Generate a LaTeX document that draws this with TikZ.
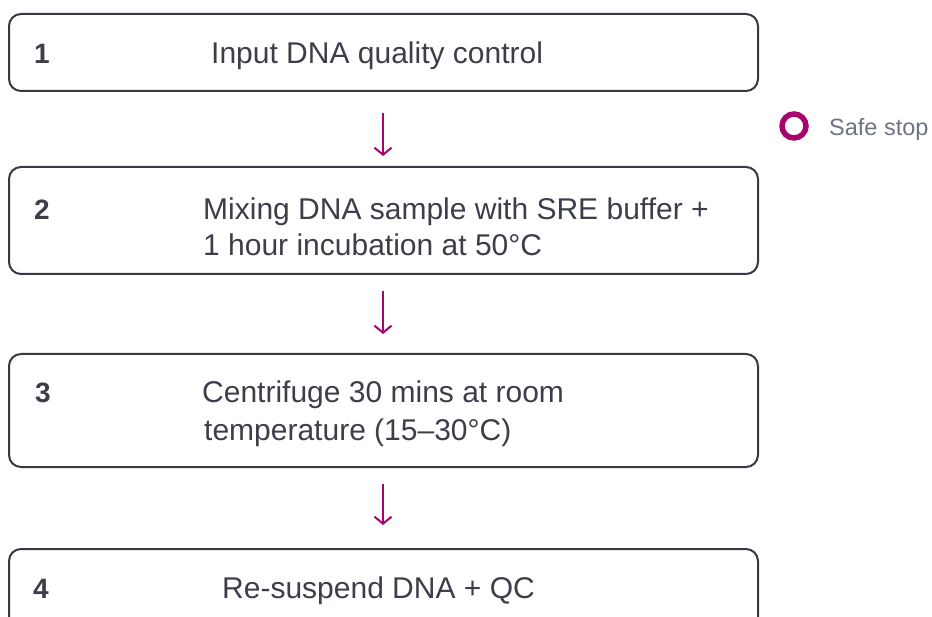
\documentclass[tikz,border=0pt]{standalone}
\usepackage{fontspec}
\setmainfont{Liberation Sans}
\usetikzlibrary{arrows.meta}
\definecolor{boxline}{HTML}{363A45}
\definecolor{txt}{HTML}{3C3F4A}
\definecolor{magen}{HTML}{A8036F}
\definecolor{grey}{HTML}{6E7380}
\tikzset{
  stepbox/.style={draw=boxline, line width=2pt, rounded corners=12pt},
  num/.style={anchor=base west, text=txt, inner sep=0pt, font=\fontsize{28}{30}\selectfont\bfseries},
  lbl/.style={anchor=base west, text=txt, inner sep=0pt, font=\fontsize{30}{34}\selectfont},
  flow/.style={draw=magen, line width=2pt, -{Straight Barb[length=7pt,width=17pt,line width=2pt]}},
}
\begin{document}
\begin{tikzpicture}[x=1pt,y=-1pt]
\useasboundingbox (0,0) rectangle (932,617);
\clip (0,0) rectangle (932,617);
\node[stepbox, minimum width=749pt, minimum height=77pt, anchor=north west] (b1) at (8,13) {};
\node[stepbox, minimum width=749pt, minimum height=107pt, anchor=north west] (b2) at (8,166) {};
\node[stepbox, minimum width=749pt, minimum height=113pt, anchor=north west] (b3) at (8,353) {};
\node[stepbox, minimum width=749pt, minimum height=100pt, anchor=north west] (b4) at (8,548) {};
\node[num] (n1) at (34,64) {1};
\node[num] (n2) at (34,220) {2};
\node[num] (n3) at (35,403) {3};
\node[num] (n4) at (33,598) {4};
\node[lbl] (t1) at (211,64) {Input DNA quality control};
\node[lbl] (t2a) at (203,220) {Mixing DNA sample with SRE buffer +};
\node[lbl] (t2b) at (203,256) {1 hour incubation at 50°C};
\node[lbl] (t3a) at (202,403) {Centrifuge 30 mins at room};
\node[lbl] (t3b) at (204,441) {temperature (15–30°C)};
\node[lbl] (t4) at (222,598) {Re-suspend DNA + QC};
\coordinate (a1s) at (383,113); \coordinate (a1e) at (383,156);
\coordinate (a2s) at (383,291); \coordinate (a2e) at (383,334);
\coordinate (a3s) at (383,484); \coordinate (a3e) at (383,525);
\draw[flow] (a1s) -- (a1e);
\draw[flow] (a2s) -- (a2e);
\draw[flow] (a3s) -- (a3e);
\node[circle, draw=magen, line width=5.5pt, minimum size=24pt, inner sep=0pt] (ss) at (794,126) {};
\node[anchor=base west, text=grey, font=\fontsize{23.5}{26}\selectfont, inner sep=0pt] (sst) at (829,136) {Safe stop};
\end{tikzpicture}
\end{document}
